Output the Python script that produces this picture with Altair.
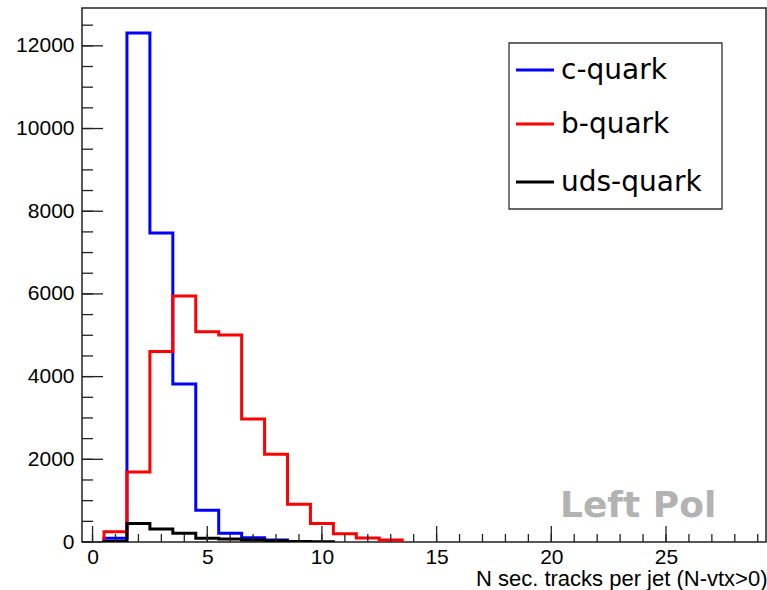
import altair as alt
import pandas as pd

# ---- data (bin contents, bins of width 1 centred on integers) ----
c_quark = [90, 12310, 7475, 3820, 770, 210, 100, 48]
b_quark = [250, 1690, 4610, 5950, 5085, 5005, 2975, 2120, 911, 450, 200, 95, 48]
uds_quark = [10, 450, 315, 210, 90, 72, 50, 28, 14, 6]
series_names = ["c-quark", "b-quark", "uds-quark"]
series_colors = ["#0000ff", "#ff0000", "#000000"]
x_major = [0, 5, 10, 15, 20, 25]
x_minor = list(range(0, 30))
y_major = [0, 2000, 4000, 6000, 8000, 10000, 12000]
y_minor = list(range(0, 13000, 500))
x_title = "N sec. tracks per jet (N-vtx>0)"
tag_text = "Left Pol"

X_DOM = [-0.46, 29.36]
Y_DOM = [0, 12915]
W, H = 684, 534


def step_frame(vals):
    xs = [0.5]
    ys = [0]
    for i, v in enumerate(vals):
        xs.append(0.5 + i)
        ys.append(v)
    xs.append(0.5 + len(vals))
    ys.append(0)
    return pd.DataFrame({"x": xs, "y": ys})


xs = alt.Scale(domain=X_DOM, nice=False, zero=False)
ys = alt.Scale(domain=Y_DOM, nice=False, zero=False)

x_axis = alt.Axis(
    values=x_major, grid=False, domain=False, ticks=False, tickSize=0,
    labelFont="Liberation Sans", labelFontSize=21, labelColor="black",
    labelPadding=4, title=x_title, titleFont="Liberation Sans",
    titleFontSize=22, titleFontWeight="normal", titleColor="black",
    titleAnchor="end", titleAlign="right", titleBaseline="middle",
    titleX=W + 1, titleY=36, labelFlush=False,
)
y_axis = alt.Axis(
    values=y_major, grid=False, domain=False, ticks=False, tickSize=0,
    labelFont="Liberation Sans", labelFontSize=21, labelColor="black",
    labelPadding=8, title=None, format="d",
)


def X(field):
    return alt.X(field, scale=xs, axis=x_axis)


def Y(field):
    return alt.Y(field, scale=ys, axis=y_axis)


layers = []
vals_list = [c_quark, b_quark, uds_quark]
for i, vals in enumerate(vals_list):
    layers.append(
        alt.Chart(step_frame(vals))
        .mark_line(interpolate="step-after", strokeWidth=3, clip=True,
                   color=series_colors[i], strokeJoin="miter")
        .encode(x=X("x:Q"), y=Y("y:Q"))
    )

tick_col = "#222222"
# x ticks (inside)
layers.append(
    alt.Chart(pd.DataFrame({"t": x_minor})).mark_rule(color=tick_col, strokeWidth=1.3)
    .encode(x=X("t:Q"), y=alt.value(H), y2=alt.value(H - 8))
)
layers.append(
    alt.Chart(pd.DataFrame({"t": x_major})).mark_rule(color=tick_col, strokeWidth=1.3)
    .encode(x=X("t:Q"), y=alt.value(H), y2=alt.value(H - 16))
)
# y ticks (inside)
layers.append(
    alt.Chart(pd.DataFrame({"t": y_minor})).mark_rule(color=tick_col, strokeWidth=1.3)
    .encode(y=Y("t:Q"), x=alt.value(0), x2=alt.value(11))
)
layers.append(
    alt.Chart(pd.DataFrame({"t": y_major})).mark_rule(color=tick_col, strokeWidth=1.3)
    .encode(y=Y("t:Q"), x=alt.value(0), x2=alt.value(21))
)

# legend box
layers.append(
    alt.Chart(pd.DataFrame({"a": [0]})).mark_rect(fill="white", stroke="#333333", strokeWidth=1.3)
    .encode(x=alt.value(427), x2=alt.value(640), y=alt.value(35), y2=alt.value(201))
)
row_y = [62, 116, 174]
for i, name in enumerate(series_names):
    layers.append(
        alt.Chart(pd.DataFrame({"a": [0]})).mark_rule(color=series_colors[i], strokeWidth=3)
        .encode(x=alt.value(434), x2=alt.value(472), y=alt.value(row_y[i]))
    )
    layers.append(
        alt.Chart(pd.DataFrame({"t": [name]}))
        .mark_text(align="left", baseline="middle", font="DejaVu Sans", fontSize=28, color="black")
        .encode(text="t:N", x=alt.value(479), y=alt.value(row_y[i] + 1))
    )

layers.append(
    alt.Chart(pd.DataFrame({"t": [tag_text]}))
    .mark_text(align="left", baseline="alphabetic", font="DejaVu Sans", fontWeight="bold",
               fontSize=36, color="#b3b3b3")
    .encode(text="t:N", x=alt.value(478), y=alt.value(509))
)

chart = (
    alt.layer(*layers)
    .properties(width=W, height=H, autosize=alt.AutoSizeParams(type="none"),
                padding={"left": 82, "top": 8, "right": 1, "bottom": 48},
                background="white")
    .configure_view(stroke="#222222", strokeWidth=1.5)
)

chart.save("out.html", embed_options={"renderer": "svg", "actions": False})
